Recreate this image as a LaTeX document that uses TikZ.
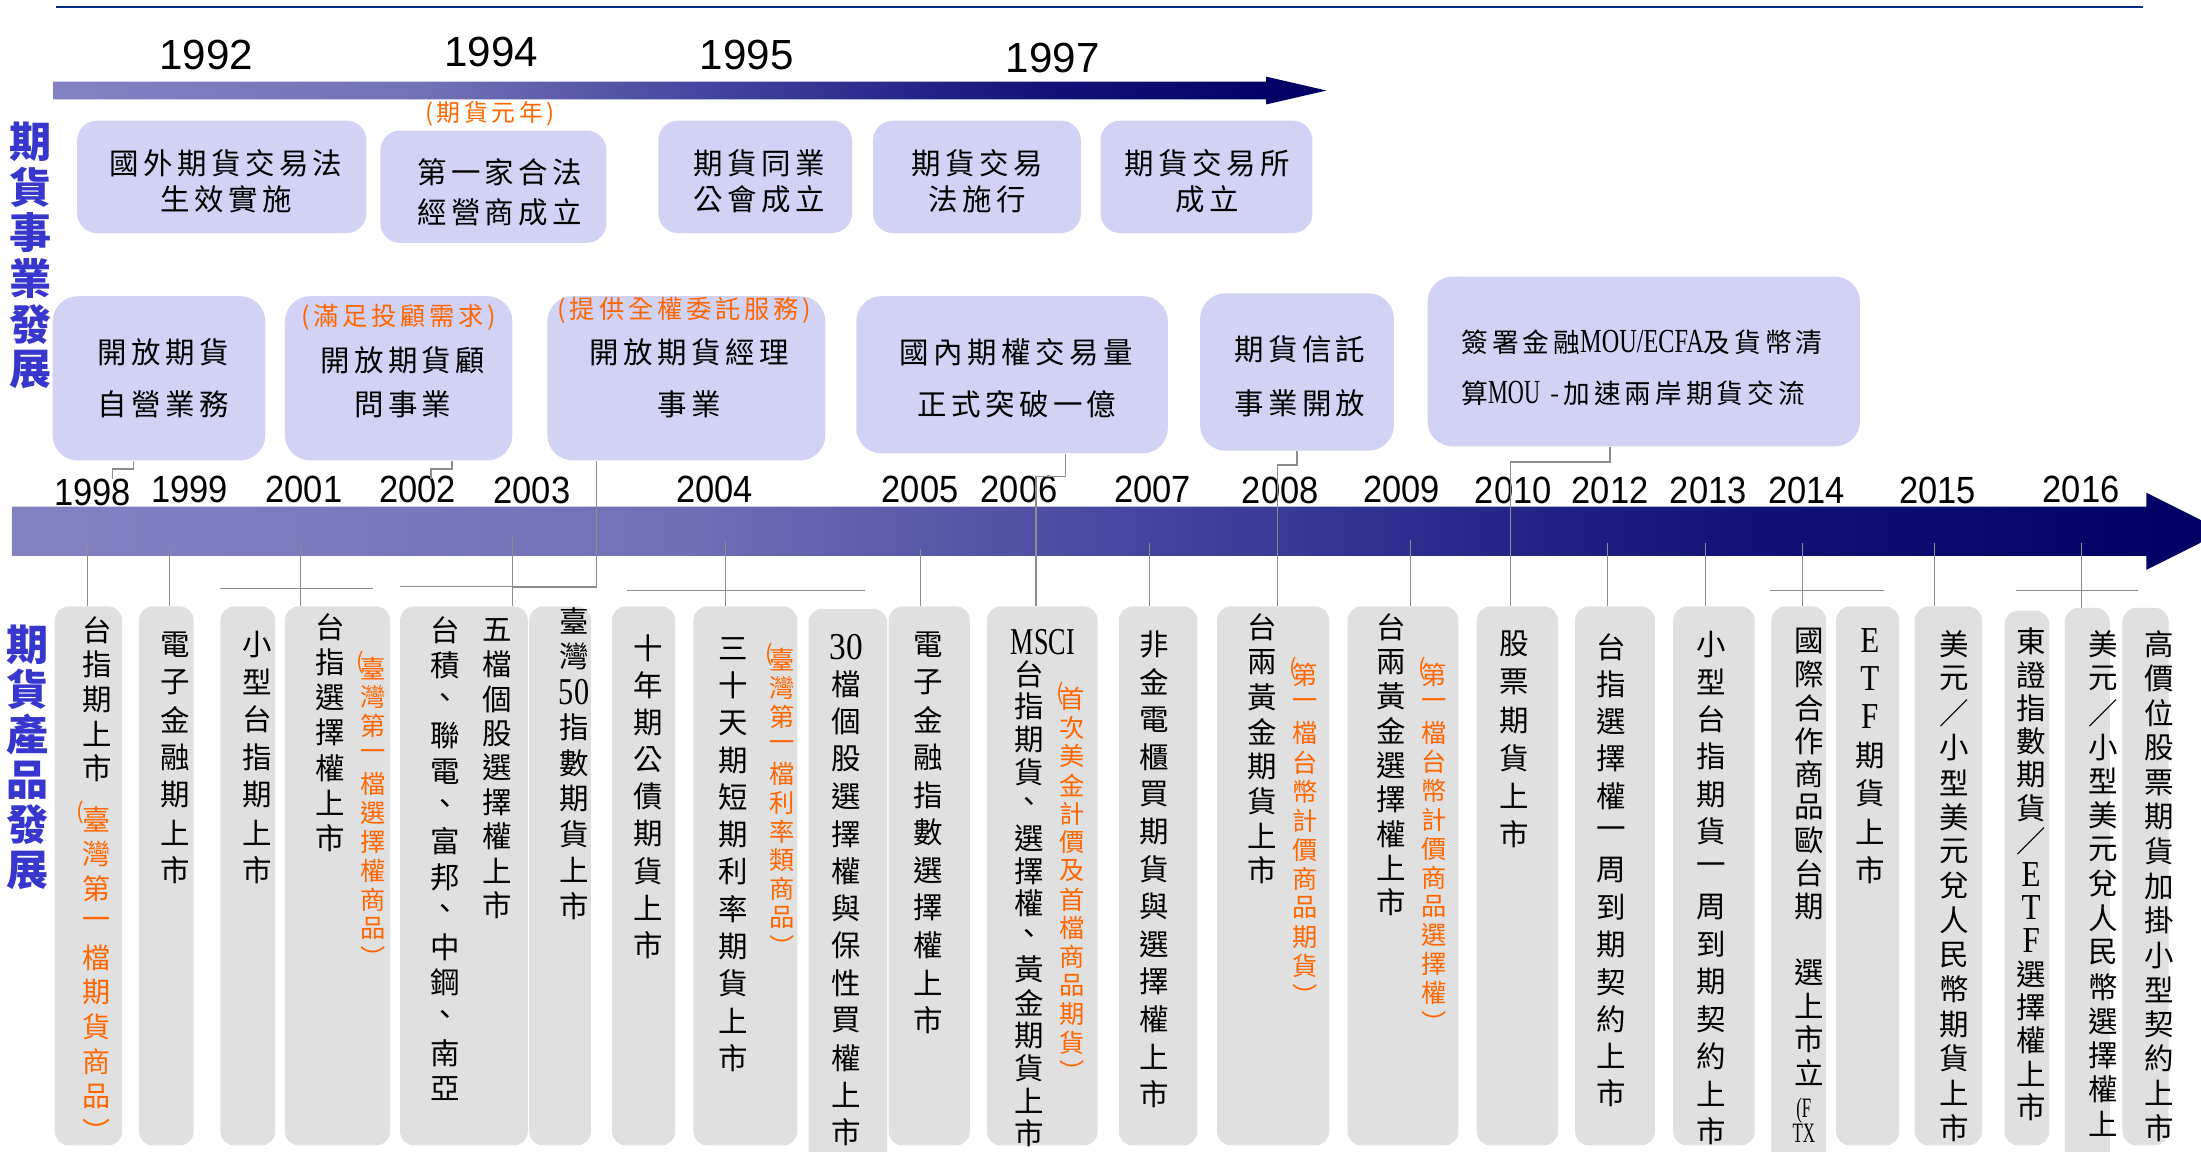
\documentclass[tikz,border=0pt]{standalone}
\usepackage{fontspec}
\usepackage{graphicx}
\setmainfont{Liberation Sans}
\newfontfamily\cjk{Noto Sans CJK TC}
\newfontfamily\cjks[LetterSpace=15]{Noto Sans CJK TC}
\newfontfamily\lat{Liberation Serif}
\definecolor{topbox}{RGB}{210,210,244}
\definecolor{botbox}{RGB}{224,224,224}
\definecolor{orng}{RGB}{255,102,0}
\definecolor{lblue}{RGB}{55,55,205}
\definecolor{lgray}{RGB}{140,140,140}
\definecolor{topline}{RGB}{0,45,135}
\pgfdeclarehorizontalshading{barsh}{100bp}{rgb(0bp)=(0.51,0.51,0.765); rgb(25bp)=(0.51,0.51,0.765); rgb(40bp)=(0.44,0.44,0.71); rgb(50bp)=(0.28,0.28,0.63); rgb(58bp)=(0.157,0.157,0.54); rgb(64bp)=(0.07,0.07,0.47); rgb(75bp)=(0,0,0.39); rgb(100bp)=(0,0,0.39)}
\newcommand\LT[3]{{\lat\fontsize{#1}{#1}\selectfont\scalebox{#2}[1]{#3}}}
\newcommand\vtxt[6]{\foreach \ch [count=\k from 0] in {#6}{\node[#5] (#1-\k) at (#2,{#3+\k*#4}) {\ch};}}
\tikzset{
 vm/.style={inner sep=0pt, font=\cjk\fontsize{21}{21}\selectfont},
 vo/.style={inner sep=0pt, text=orng, font=\cjk\fontsize{18}{18}\selectfont},
 vpar/.style={inner sep=0pt, text=orng, font=\cjk\fontsize{16}{16}\selectfont},
 vlbl/.style={inner sep=0pt, text=lblue, font=\cjk\bfseries\fontsize{30}{30}\selectfont},
 htx/.style={inner sep=0pt, font=\cjks\fontsize{21}{21}\selectfont},
 hor/.style={inner sep=0pt, text=orng, font=\cjks\fontsize{18}{18}\selectfont},
 topb/.style={fill=topbox, rounded corners=14pt, inner sep=0pt},
 midb/.style={fill=topbox, rounded corners=18pt, inner sep=0pt},
 botb/.style={fill=botbox, rounded corners=10pt, inner sep=0pt, minimum height=384pt},
 botx/.style={fill=botbox, rounded corners=10pt, inner sep=0pt, minimum height=400pt},
 conn/.style={draw=lgray, line width=0.9pt},
 yrt/.style={inner sep=0pt, font=\fontsize{30}{30}\selectfont},
 yrb/.style={inner sep=0pt, font=\fontsize{27}{27}\selectfont},
}
\begin{document}
\begin{tikzpicture}[x=1pt,y=-1pt]
\useasboundingbox (0,0) rectangle (1568,820);
\clip (0,0) rectangle (1568,820);
\fill[white] (0,0) rectangle (1568,820);
% top rule
\draw[topline, line width=1.6pt] (40,5) -- (1527,5);
% arrows
\shade[shading=barsh] (38,58.2) -- (902,58.2) -- (902,54.6) -- (945,64.5) -- (902,74.4) -- (902,70.8) -- (38,70.8) -- cycle;
\shade[shading=barsh] (8.5,361) -- (1529,361) -- (1529,351) -- (1584,378.5) -- (1529,406) -- (1529,396) -- (8.5,396) -- cycle;
% top years
\node[yrt] (ty1992) at (147,39) {1992};
\node[yrt] (ty1994) at (350,37) {1994};
\node[yrt] (ty1995) at (532,39) {1995};
\node[yrt] (ty1997) at (750,41.5) {1997};
% top row boxes
\node[topb, minimum width=206pt, minimum height=80pt] (R1) at (158,126) {};
\node[topb, minimum width=161pt, minimum height=80pt] (R2) at (351.5,133) {};
\node[topb, minimum width=138pt, minimum height=80pt] (R3) at (538,126) {};
\node[topb, minimum width=148pt, minimum height=80pt] (R4) at (696,126) {};
\node[topb, minimum width=151pt, minimum height=80pt] (R5) at (859.5,126) {};
\node[htx] (R1a) at (161,116) {國外期貨交易法};
\node[htx] (R1b) at (161,142) {生效實施};
\node[hor, font=\cjks\fontsize{17}{17}\selectfont] (R2o) at (349,81) {(期貨元年)};
\node[htx] (R2a) at (356,123) {第一家合法};
\node[htx] (R2b) at (356,151) {經營商成立};
\node[htx] (R3a) at (541,116) {期貨同業};
\node[htx] (R3b) at (541,142) {公會成立};
\node[htx] (R4a) at (696,116) {期貨交易};
\node[htx] (R4b) at (696,142) {法施行};
\node[htx] (R5a) at (860,116) {期貨交易所};
\node[htx] (R5b) at (860,142) {成立};
% second row boxes
\node[midb, minimum width=151.5pt, minimum height=117pt] (S1) at (113.25,269.5) {};
\node[midb, minimum width=162pt, minimum height=117pt] (S2) at (284,269.5) {};
\node[midb, minimum width=198pt, minimum height=117pt] (S3) at (489,269.5) {};
\node[midb, minimum width=222pt, minimum height=112pt] (S4) at (721,267) {};
\node[midb, minimum width=138pt, minimum height=112pt] (S5) at (924,265) {};
\node[midb, minimum width=308pt, minimum height=121pt] (S6) at (1171,257.5) {};
\node[htx] (S1a) at (116.5,251) {開放期貨};
\node[htx] (S1b) at (116.5,288) {自營業務};
\node[hor] (S2o) at (284,226) {(滿足投顧需求)};
\node[htx] (S2a) at (287,257) {開放期貨顧};
\node[htx] (S2b) at (287,288) {問事業};
\node[hor] (S3o) at (487.5,221) {(提供全權委託服務)};
\node[htx] (S3a) at (491,251) {開放期貨經理};
\node[htx] (S3b) at (491,288) {事業};
\node[htx] (S4a) at (724,251) {國內期權交易量};
\node[htx] (S4b) at (724.5,288) {正式突破一億};
\node[htx] (S5a) at (926,249) {期貨信託};
\node[htx] (S5b) at (926,287) {事業開放};
\node[htx, anchor=west, font=\cjks\fontsize{19}{19}\selectfont] (S6a) at (1041,244) {簽署金融\LT{24}{0.72}{MOU/ECFA}及貨幣清};
\node[htx, anchor=west, font=\cjks\fontsize{19}{19}\selectfont] (S6b) at (1041,280) {算\LT{24}{0.66}{MOU} -加速兩岸期貨交流};
% left labels
\vtxt{lb1}{22}{101}{32.5}{vlbl}{期,貨,事,業,發,展}
\vtxt{lb2}{19.5}{459}{32.2}{vlbl}{期,貨,產,品,發,展}
% bottom years
\node[yrb] (y1998) at (66,350.5) {\scalebox{0.91}[1]{1998}};
\node[yrb] (y1999) at (135,349) {\scalebox{0.91}[1]{1999}};
\node[yrb] (y2001) at (216.5,349) {\scalebox{0.91}[1]{2001}};
\node[yrb] (y2002) at (297.5,349) {\scalebox{0.91}[1]{2002}};
\node[yrb] (y2003) at (379,349.5) {\scalebox{0.91}[1]{2003}};
\node[yrb] (y2004) at (509,349) {\scalebox{0.91}[1]{2004}};
\node[yrb] (y2005) at (655.5,349) {\scalebox{0.91}[1]{2005}};
\node[yrb] (y2006) at (726,349) {\scalebox{0.91}[1]{2006}};
\node[yrb] (y2007) at (821,349) {\scalebox{0.91}[1]{2007}};
\node[yrb] (y2008) at (912,349.5) {\scalebox{0.91}[1]{2008}};
\node[yrb] (y2009) at (998.5,349) {\scalebox{0.91}[1]{2009}};
\node[yrb] (y2010) at (1078,349.5) {\scalebox{0.91}[1]{2010}};
\node[yrb] (y2012) at (1147,349.5) {\scalebox{0.91}[1]{2012}};
\node[yrb] (y2013) at (1217,349.5) {\scalebox{0.91}[1]{2013}};
\node[yrb] (y2014) at (1287,349.5) {\scalebox{0.91}[1]{2014}};
\node[yrb] (y2015) at (1380.5,349.5) {\scalebox{0.91}[1]{2015}};
\node[yrb] (y2016) at (1482.5,349) {\scalebox{0.91}[1]{2016}};
% bottom boxes
\node[botb, minimum width=48pt] (B1) at (63,624) {};
\node[botb, minimum width=39pt] (B2) at (118.5,624) {};
\node[botb, minimum width=39pt] (B3) at (176.5,624) {};
\node[botb, minimum width=75pt] (B4) at (240.5,624) {};
\node[botb, minimum width=91pt] (B5) at (330.5,624) {};
\node[botb, minimum width=44pt] (B6) at (399,624) {};
\node[botb, minimum width=45pt] (B7) at (458.5,624) {};
\node[botb, minimum width=74pt] (B8) at (531,624) {};
\node[botx, minimum width=56pt] (B9) at (604,633.7) {};
\node[botb, minimum width=58pt] (B10) at (662,624) {};
\node[botb, minimum width=79pt] (B11) at (742.5,624) {};
\node[botb, minimum width=56pt] (B12) at (825,624) {};
\node[botb, minimum width=80pt] (B13) at (907,624) {};
\node[botb, minimum width=79pt] (B14) at (999.5,624) {};
\node[botb, minimum width=58pt] (B15) at (1081,624) {};
\node[botb, minimum width=57pt] (B16) at (1150.5,624) {};
\node[botb, minimum width=58pt] (B17) at (1221,624) {};
\node[botx, minimum width=39pt] (B18) at (1281.5,632) {};
\node[botb, minimum width=45pt] (B19) at (1330.5,624) {};
\node[botb, minimum width=48pt] (B20) at (1388,624) {};
\node[botb, minimum width=32pt, minimum height=381pt] (B21) at (1444,625.5) {};
\node[botx, minimum width=32pt] (B22) at (1487,633) {};
\node[botb, minimum width=33pt, minimum height=383pt] (B23) at (1528.5,624.5) {};
% connectors from second row to the time line
\coordinate (e1) at (80,341);
\coordinate (e2) at (307,341);
\coordinate (e3) at (365,383);
\draw[conn] ([xshift=-18.25pt]S1.south) -- ++(0,6) -| (e1);
\draw[conn] ([xshift=38pt]S2.south) -- ++(0,6) -| (e2);
\draw[conn] ([xshift=-64pt]S3.south) -- ++(0,90) -| (e3);
\draw[conn] ([xshift=38pt]S4.south) -- ++(0,16) -| ([xshift=-4.5pt]B11.north);
\draw[conn] (S5.south) -- ++(0,10) -| ([xshift=3pt]B13.north);
\draw[conn] ([xshift=-24pt]S6.south) -- ++(0,11) -| ([xshift=-5pt]B15.north);
% year ticks to boxes
\draw[conn] ([xshift=-0.5pt]B1.north) -- ++(0,-46);
\draw[conn] ([xshift=2.5pt]B2.north) -- ++(0,-41);
\draw[conn] ([xshift=-26.5pt]B4.north) -- ++(0,-46);
\draw[conn] ([xshift=34.5pt]B5.north) -- ++(0,-49);
\draw[conn] ([xshift=-14.3pt]B8.north) -- ++(0,-46);
\draw[conn] ([xshift=-6pt]B10.north) -- ++(0,-41);
\draw[conn] ([xshift=-6pt]B12.north) -- ++(0,-45);
\draw[conn] ([xshift=5.5pt]B14.north) -- ++(0,-47);
\draw[conn] ([xshift=-5.5pt]B16.north) -- ++(0,-45);
\draw[conn] ([xshift=-6pt]B17.north) -- ++(0,-45);
\draw[conn] ([xshift=2.5pt]B18.north) -- ++(0,-45);
\draw[conn] ([xshift=-10pt]B20.north) -- ++(0,-45);
\draw[conn] ([xshift=-4pt]B22.north) -- ++(0,-46);
% brackets
\coordinate (k1a) at (157,419); \coordinate (k1b) at (266,419);
\coordinate (k3a) at (285,418); \coordinate (k3b) at (425,418);
\coordinate (k4a) at (447,420.5); \coordinate (k4b) at (616,420.5);
\coordinate (k14a) at (1261,420.5); \coordinate (k14b) at (1342,420.5);
\coordinate (k16a) at (1436,420.5); \coordinate (k16b) at (1523,420.5);
\draw[conn] (k1a) -- (k1b);
\draw[conn] (k3a) -- (k3b);
\draw[conn] (k4a) -- (k4b);
\draw[conn] (k14a) -- (k14b);
\draw[conn] (k16a) -- (k16b);
% bottom texts
\vtxt{b1m}{69}{449}{24.5}{vm}{台,指,期,上,市}
\node[vpar] (b1p) at (57,579) {(};
\vtxt{b1o}{69}{584}{24.6}{vo,font=\cjk\fontsize{20}{20}\selectfont}{臺,灣,第,一,檔,期,貨,商,品,︶}
\vtxt{b2m}{125}{459}{26.8}{vm}{電,子,金,融,期,上,市}
\vtxt{b3m}{183}{459}{26.8}{vm}{小,型,台,指,期,上,市}
\vtxt{b4m}{235}{447}{25}{vm}{台,指,選,擇,權,上,市}
\node[vpar] (b4p) at (257,472) {(};
\vtxt{b4o}{266}{476}{20.6}{vo}{臺,灣,第,一,檔,選,擇,權,商,品,︶}
\vtxt{b5a}{317}{449}{25.1}{vm}{台,積,、,聯,電,、,富,邦,、,中,鋼,、,南,亞}
\vtxt{b5b}{354}{449}{24.5}{vm}{五,檔,個,股,選,擇,權,上,市}
\vtxt{b6m}{409}{442}{25.4}{vm}{臺,灣,{\LT{27}{0.8}{50}},指,數,期,貨,上,市}
\vtxt{b7m}{462}{462}{26.4}{vm}{十,年,期,公,債,期,貨,上,市}
\vtxt{b8m}{522}{462}{26.5}{vm}{三,十,天,期,短,期,利,率,期,貨,上,市}
\node[vpar] (b8p) at (548,466) {(};
\vtxt{b8o}{557}{470}{20.4}{vo}{臺,灣,第,一,檔,利,率,類,商,品,︶}
\vtxt{b9m}{603}{461}{26.6}{vm}{{\LT{27}{0.88}{30}},檔,個,股,選,擇,權,與,保,性,買,權,上,市}
\vtxt{b10m}{661}{459}{26.8}{vm}{電,子,金,融,指,數,選,擇,權,上,市}
\node[inner sep=0pt] (b11x) at (743,457.5) {\LT{27}{0.69}{MSCI}};
\vtxt{b11m}{733}{480}{23.4}{vm}{台,指,期,貨,、,選,擇,權,、,黃,金,期,貨,上,市}
\node[vpar] (b11p) at (755,494) {(};
\vtxt{b11o}{764}{498}{20.4}{vo}{首,次,美,金,計,價,及,首,檔,商,品,期,貨,︶}
\vtxt{b12m}{822}{459}{26.7}{vm}{非,金,電,櫃,買,期,貨,與,選,擇,權,上,市}
\vtxt{b13m}{899}{447}{24.7}{vm}{台,兩,黃,金,期,貨,上,市}
\node[vpar] (b13p) at (921,476) {(};
\vtxt{b13o}{930}{481}{20.7}{vo}{第,一,檔,台,幣,計,價,商,品,期,貨,︶}
\vtxt{b14m}{991}{447}{24.5}{vm}{台,兩,黃,金,選,擇,權,上,市}
\node[vpar] (b14p) at (1013,476) {(};
\vtxt{b14o}{1022}{481}{20.6}{vo}{第,一,檔,台,幣,計,價,商,品,選,擇,權,︶}
\vtxt{b15m}{1079}{459}{27}{vm}{股,票,期,貨,上,市}
\vtxt{b16m}{1148}{461}{26.5}{vm}{台,指,選,擇,權,一,周,到,期,契,約,上,市}
\vtxt{b17m}{1219}{459}{26.7}{vm}{小,型,台,指,期,貨,一,周,到,期,契,約,上,市}
\vtxt{b18m}{1289}{457}{23.6}{vm}{國,際,合,作,商,品,歐,台,期,{\phantom{國}},選,上,市,立}
\node[inner sep=0pt] (b18x) at (1285,791) {\LT{20}{0.6}{(F}};
\node[inner sep=0pt] (b18y) at (1285,807.6) {\LT{20}{0.6}{TX}};
\vtxt{b19m}{1332}{456}{27.3}{vm}{{\LT{26}{0.85}{E}},{\LT{26}{0.85}{T}},{\LT{26}{0.85}{F}},期,貨,上,市}
\vtxt{b20m}{1392}{459}{24.6}{vm}{美,元,／,小,型,美,元,兌,人,民,幣,期,貨,上,市}
\vtxt{b21m}{1447}{457}{23.7}{vm}{東,證,指,數,期,貨,／,{\LT{26}{0.85}{E}},{\LT{26}{0.85}{T}},{\LT{26}{0.85}{F}},選,擇,權,上,市}
\vtxt{b22m}{1498}{459}{24.4}{vm}{美,元,／,小,型,美,元,兌,人,民,幣,選,擇,權,上}
\vtxt{b23m}{1538}{459}{24.6}{vm}{高,價,位,股,票,期,貨,加,掛,小,型,契,約,上,市}
\end{tikzpicture}
\end{document}
